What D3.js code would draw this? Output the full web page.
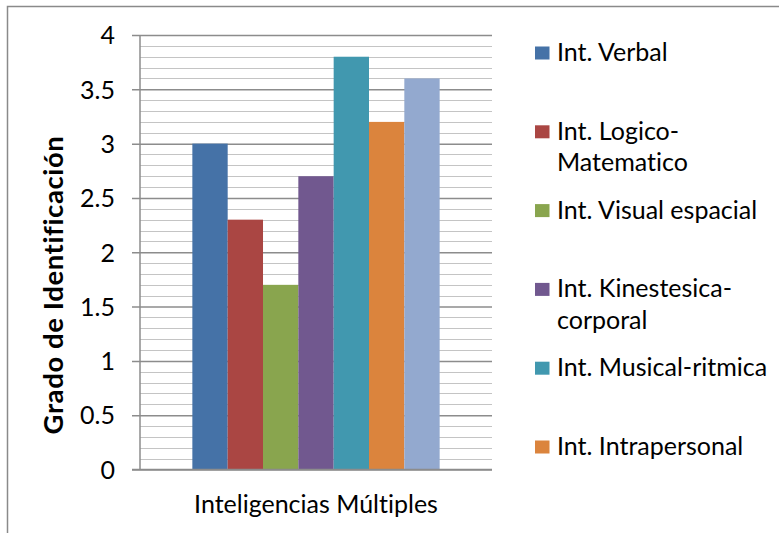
<!DOCTYPE html>
<html>
<head>
<meta charset="utf-8">
<script src="https://cdn.jsdelivr.net/npm/d3@7"></script>
<style>
  body { margin: 0; background: #fff; }
  text { font-family: Lato, "Open Sans", sans-serif; fill: #000; font-variant-ligatures: none; }
</style>
</head>
<body>
<div id="tu"></div>
<script>
var category = "Inteligencias Múltiples";
var seriesNames = ["Int. Verbal", "Int. Logico-Matematico", "Int. Visual espacial",
  "Int. Kinestesica-corporal", "Int. Musical-ritmica", "Int. Intrapersonal", "Int. Interpersonal"];
// legend lines as they wrap in the picture
var legendLines = [["Int. Verbal"], ["Int. Logico-", "Matematico"], ["Int. Visual espacial"],
  ["Int. Kinestesica-", "corporal"], ["Int. Musical-ritmica"], ["Int. Intrapersonal"], ["Int. Interpersonal"]];
var values = [3, 2.3, 1.7, 2.7, 3.8, 3.2, 3.6];
var colors = ["#4572A7", "#AA4643", "#89A54E", "#71588F", "#4198AF", "#DB843D", "#93A9CF"];
var yTicks = [0, 0.5, 1, 1.5, 2, 2.5, 3, 3.5, 4];
var yTitle = "Grado de Identificación";

var fullWidth = 779;
var fullHeight = 533;
var margin = {top: 35, right: 287, bottom: 63.5, left: 140};
var width = fullWidth - margin.left - margin.right;
var height = fullHeight - margin.top - margin.bottom;

var root = d3.select("#tu")
  .append("svg")
  .attr("width", fullWidth)
  .attr("height", fullHeight);

// outer chart frame (right and bottom run off the picture)
root.append("rect")
  .attr("x", 7.5).attr("y", 6.5)
  .attr("width", 800).attr("height", 600)
  .attr("fill", "none")
  .attr("stroke", "#8a8a8a")
  .attr("stroke-width", 1.5);

var svg = root.append("g")
  .attr("transform", "translate(" + margin.left + "," + margin.top + ")");

var yScale = d3.scaleLinear().domain([0, 4]).range([height, 0]);
var xScale = d3.scaleBand().domain([category]).range([0, width]).paddingOuter(0.2117).paddingInner(0);
var xInner = d3.scaleBand().domain(seriesNames).range([0, xScale.bandwidth()]);

// minor gridlines every 0.1
var minor = d3.range(1, 40).filter(function(d) { return d % 5 != 0; }).map(function(d) { return d / 10; });
svg.append("g").selectAll("line")
  .data(minor)
  .enter().append("line")
  .attr("x1", 0).attr("x2", width)
  .attr("y1", function(d) { return Math.round(yScale(d)) + 0.5; })
  .attr("y2", function(d) { return Math.round(yScale(d)) + 0.5; })
  .attr("stroke", "#c4c4c4")
  .attr("stroke-width", 1.2);

// major gridlines + ticks
var yAxis = d3.axisLeft(yScale)
  .tickValues(yTicks)
  .tickSize(-width)
  .tickPadding(25)
  .tickFormat(function(d) { return d; });

var gy = svg.append("g").call(yAxis);
gy.select(".domain").remove();
gy.selectAll(".tick line")
  .attr("x1", -8)
  .attr("stroke", "#8c8c8c")
  .attr("stroke-width", 1.5);
gy.selectAll(".tick text")
  .attr("font-size", 25)
  .attr("dy", "0.35em");

// y axis line
svg.append("line")
  .attr("x1", 0).attr("x2", 0)
  .attr("y1", 0).attr("y2", height)
  .attr("stroke", "#8c8c8c")
  .attr("stroke-width", 1.5);

// bars
svg.append("g").selectAll("rect")
  .data(values)
  .enter().append("rect")
  .attr("x", function(d, i) { return xScale(category) + xInner(seriesNames[i]); })
  .attr("width", xInner.bandwidth())
  .attr("y", function(d) { return yScale(d); })
  .attr("height", function(d) { return height - yScale(d); })
  .attr("fill", function(d, i) { return colors[i]; });

// x axis line
svg.append("line")
  .attr("x1", -8).attr("x2", width)
  .attr("y1", height).attr("y2", height)
  .attr("stroke", "#8c8c8c")
  .attr("stroke-width", 1.5);

// category label
svg.append("text")
  .attr("x", xScale(category) + xScale.bandwidth() / 2)
  .attr("y", height + 43.5)
  .attr("text-anchor", "middle")
  .attr("font-size", 25)
  .text(category);

// y title
root.append("text")
  .attr("transform", "translate(63,285) rotate(-90)")
  .attr("text-anchor", "middle")
  .attr("font-size", 27.5)
  .attr("letter-spacing", 0.6)
  .attr("font-weight", "bold")
  .text(yTitle);

// legend, entries that don't fit are dropped like in the original
var legendY = d3.scaleLinear().domain([0, 1]).range([61, 139.8]);
var legendData = seriesNames.map(function(d, i) { return {name: d, i: i}; })
  .filter(function(d) { return legendY(d.i) < fullHeight - 20; });

var legend = root.append("g").selectAll("g")
  .data(legendData)
  .enter().append("g")
  .attr("transform", function(d) { return "translate(535," + legendY(d.i) + ")"; });

legend.append("rect")
  .attr("x", 0).attr("y", -14.5)
  .attr("width", 14.5).attr("height", 13)
  .attr("fill", function(d) { return colors[d.i]; });

legend.append("text")
  .attr("x", 22)
  .attr("font-size", 25)
  .selectAll("tspan")
  .data(function(d) { return legendLines[d.i]; })
  .enter().append("tspan")
  .attr("x", 22)
  .attr("dy", function(d, j) { return j == 0 ? 0 : 31.5; })
  .text(function(d) { return d; });
</script>
</body>
</html>
